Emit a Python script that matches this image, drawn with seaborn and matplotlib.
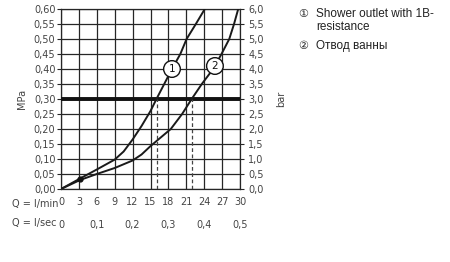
import matplotlib
matplotlib.use("Agg")
import matplotlib.pyplot as plt
import seaborn as sns
import pandas as pd

# Data (flow in l/min, pressure in MPa)
flow_1 = [0, 3.2, 6, 9, 10.5, 12, 13.5, 15, 16.0, 17.3, 18.6, 20.0, 21.05, 22.6, 24.1]
press_1 = [0, 0.035, 0.065, 0.098, 0.125, 0.165, 0.21, 0.26, 0.30, 0.35, 0.40, 0.45, 0.50, 0.55, 0.60]
flow_2 = [0, 3.2, 6, 9, 12, 13.5, 15, 18.4, 20.3, 21.9, 23.6, 25.5, 26.9, 28.2, 29.0, 29.7]
press_2 = [0, 0.03, 0.05, 0.07, 0.095, 0.115, 0.143, 0.20, 0.25, 0.30, 0.35, 0.40, 0.45, 0.50, 0.55, 0.60]
marker_point = (3.2, 0.033)
limit_press = 0.30
cross_flows = [16.1, 22.0]
label_pos = {"1": (18.6, 0.40), "2": (25.8, 0.41)}
lmin_ticks = [0, 3, 6, 9, 12, 15, 18, 21, 24, 27, 30]
lsec_ticks = [0, 0.1, 0.2, 0.3, 0.4, 0.5]
mpa_ticks = [round(0.05 * i, 2) for i in range(13)]
bar_ticks = [round(0.5 * i, 1) for i in range(13)]
legend_marks = ["①", "②"]
legend_texts = ["Shower outlet with 1B-\nresistance", "Отвод ванны"]

sns.set_style("white")
plt.rcParams["font.family"] = ["DejaVu Sans"]

df = pd.concat([
    pd.DataFrame({"flow": flow_1, "press": press_1, "curve": "1"}),
    pd.DataFrame({"flow": flow_2, "press": press_2, "curve": "2"}),
])

fig = plt.figure(figsize=(4.5, 2.62), dpi=100)
ax = fig.add_axes([61 / 450, 73 / 262, 179 / 450, 180 / 262])

sns.lineplot(data=df, x="flow", y="press", hue="curve", palette=["#1a1a1a", "#1a1a1a"],
             legend=False, ax=ax, linewidth=1.4, sort=False, zorder=4)

tick_col = "#444444"
ax.set_xlim(0, 30)
ax.set_ylim(0, 0.60)
ax.set_xticks(lmin_ticks)
ax.set_xticklabels([str(t) for t in lmin_ticks], fontsize=7, color=tick_col)
ax.set_yticks(mpa_ticks)
ax.set_yticklabels([f"{t:.2f}".replace(".", ",") for t in mpa_ticks], fontsize=7, color=tick_col)
ax.grid(True, color="#262626", linewidth=0.9)
for s in ax.spines.values():
    s.set_color("#262626")
    s.set_linewidth(0.9)
ax.tick_params(axis="y", length=3, width=0.8, color="#262626", pad=1)
ax.tick_params(axis="x", length=0, pad=6)
ax.set_xlabel("")
ax.set_ylabel("MPa", fontsize=7, color=tick_col, labelpad=5)

ax.axhline(limit_press, color="#111", linewidth=2.8, zorder=3)
for xf in cross_flows:
    ax.plot([xf, xf], [0, limit_press], color="#444", linestyle=(0, (3, 2)), linewidth=0.9, zorder=3)

ax.plot([marker_point[0]], [marker_point[1]], "o", color="#111", markersize=3.5, zorder=5)

for lab, (xx, yy) in label_pos.items():
    ax.text(xx, yy, lab, fontsize=7.5, ha="center", va="center",
            zorder=6, color="#111",
            bbox=dict(boxstyle="circle,pad=0.32", fc="white", ec="#111", lw=1.0))

# Right axis in bar
ax2 = ax.twinx()
ax2.set_ylim(0, 6.0)
ax2.set_yticks(bar_ticks)
ax2.set_yticklabels([f"{t:.1f}".replace(".", ",") for t in bar_ticks], fontsize=7, color=tick_col)
ax2.tick_params(axis="y", length=3, width=0.8, color="#262626", pad=3)
ax2.set_ylabel("bar", fontsize=7, color=tick_col, labelpad=9)
for s in ax2.spines.values():
    s.set_visible(False)

# Secondary x axis in l/sec
sec = ax.secondary_xaxis(-0.155, functions=(lambda x: x / 60.0, lambda x: x * 60.0))
sec.set_xticks(lsec_ticks)
sec.set_xticklabels(["0"] + [f"{t:.1f}".replace(".", ",") for t in lsec_ticks[1:]], fontsize=7, color=tick_col)
sec.tick_params(length=0, pad=2)
sec.spines["bottom"].set_visible(False)

fig.text(12 / 450, 1 - 204 / 262, "Q = l/min", fontsize=7, color=tick_col, va="center", ha="left")
fig.text(12 / 450, 1 - 223 / 262, "Q = l/sec", fontsize=7, color=tick_col, va="center", ha="left")

lfam = ["Liberation Sans", "DejaVu Sans"]
fig.text(298 / 450, 1 - 14 / 262, legend_marks[0], fontsize=8, color="#222", va="center", ha="left", family=["DejaVu Sans"])
fig.text(316 / 450, 1 - 8 / 262, legend_texts[0], fontsize=8.5, color="#222", va="top", ha="left",
         family=lfam, linespacing=1.15)
fig.text(298 / 450, 1 - 46 / 262, legend_marks[1], fontsize=8, color="#222", va="center", ha="left", family=["DejaVu Sans"])
fig.text(316 / 450, 1 - 46 / 262, legend_texts[1], fontsize=8.5, color="#222", va="center", ha="left", family=lfam)

fig.savefig("out.png", dpi=100, facecolor="white")
